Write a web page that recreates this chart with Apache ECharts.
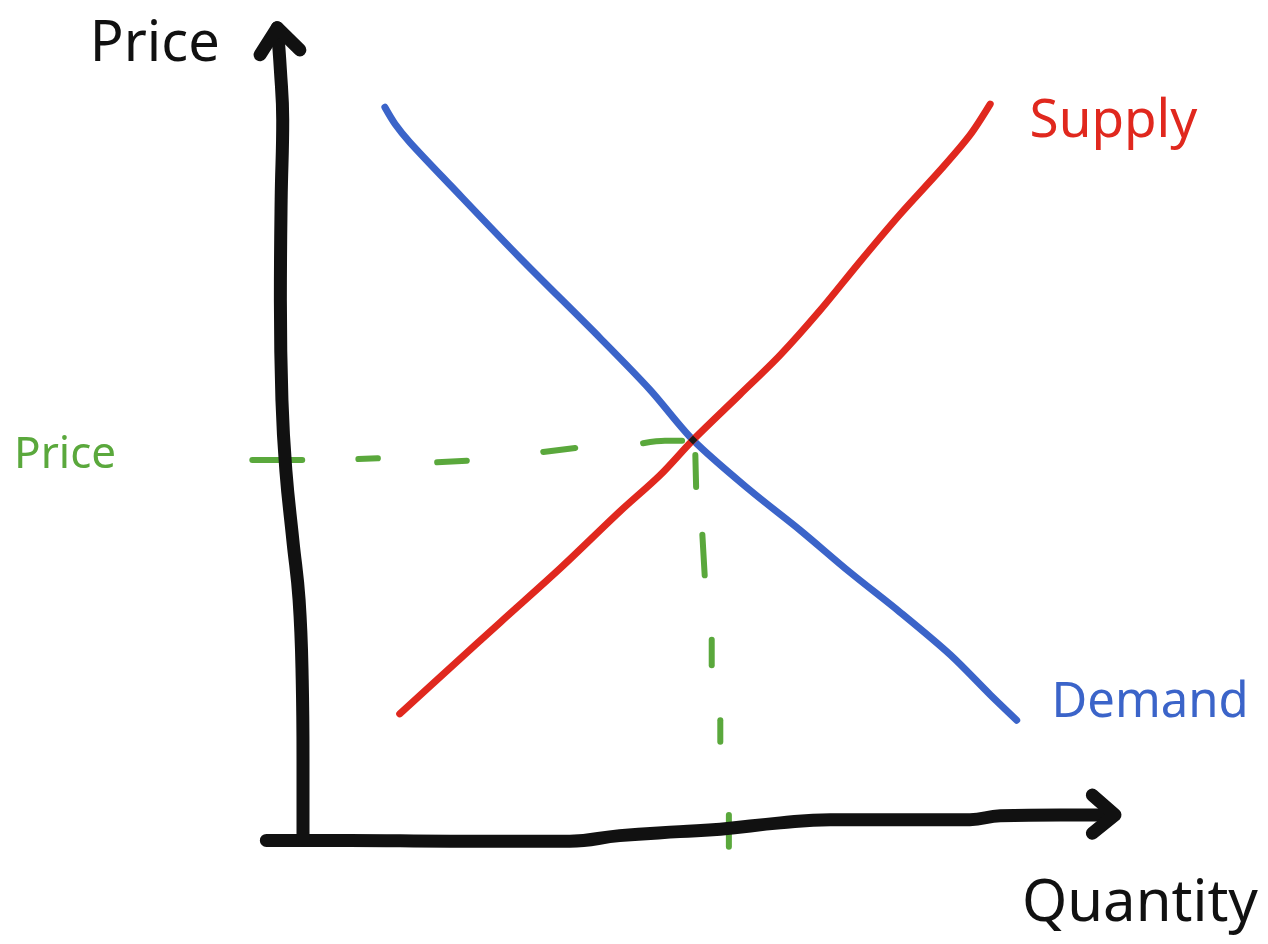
<!DOCTYPE html>
<html>
<head>
<meta charset="utf-8">
<title>Supply and Demand</title>
<script src="https://cdn.jsdelivr.net/npm/echarts@6/dist/echarts.min.js"></script>
<style>
  html, body { margin: 0; padding: 0; background: #ffffff; }
  #chart { width: 1268px; height: 944px; }
</style>
</head>
<body>
<div id="chart"></div>
<script>
// Quantity on x, price on y; the equilibrium sits at (5, 5).
// Each curve is a list of [quantity, price] points.
const demandPoints = [
  [1.05, 9.18], [1.18, 8.97], [1.37, 8.74], [1.89, 8.20], [2.78, 7.29],
  [3.81, 6.28], [4.45, 5.63], [5.00, 5.00], [5.73, 4.37], [6.37, 3.87],
  [7.01, 3.34], [7.65, 2.84], [8.30, 2.30], [8.81, 1.80], [9.15, 1.48]
];
const supplyPoints = [
  [1.24, 1.56], [1.89, 2.14], [2.53, 2.71], [3.30, 3.39], [4.06, 4.10],
  [4.58, 4.56], [5.00, 5.00], [5.60, 5.57], [6.12, 6.07], [6.63, 6.63],
  [7.14, 7.24], [7.65, 7.83], [8.17, 8.39], [8.55, 8.83], [8.81, 9.22]
];
const equilibrium = [5.0, 5.0];

// Hand-drawn axis strokes (slightly wobbly) and their arrow heads
const priceAxisStroke = [
  [-0.33, 10.18], [-0.29, 9.65], [-0.26, 9.02], [-0.28, 8.02], [-0.29, 6.76],
  [-0.27, 5.50], [-0.22, 4.62], [-0.13, 3.74], [-0.05, 2.99], [-0.01, 1.99],
  [0.0, 0.98], [0.0, 0.0]
];
const priceArrowHead = [[-0.55, 9.84], [-0.33, 10.18], [-0.04, 9.90]];
const quantityAxisStroke = [
  [-0.47, -0.03], [0.60, -0.03], [1.89, -0.04], [3.42, -0.04], [4.06, 0.03],
  [4.83, 0.08], [5.35, 0.11], [6.12, 0.19], [6.76, 0.23], [7.65, 0.23],
  [8.55, 0.23], [8.94, 0.28], [9.71, 0.29], [10.37, 0.29]
];
const quantityArrowHead = [[10.12, 0.54], [10.41, 0.29], [10.12, 0.06]];

// Dashed guides from the equilibrium to both axes, one entry per dash
const priceGuideDashes = [
  [[-0.65, 4.75], [-0.01, 4.75]],
  [[0.71, 4.76], [0.96, 4.77]],
  [[1.72, 4.72], [2.10, 4.74]],
  [[3.08, 4.85], [3.49, 4.90]],
  [[4.36, 4.96], [4.64, 4.99], [4.86, 4.99]]
];
const quantityGuideDashes = [
  [[5.03, 4.81], [5.04, 4.41]],
  [[5.12, 3.81], [5.15, 3.30]],
  [[5.24, 2.49], [5.24, 2.17]],
  [[5.35, 1.48], [5.35, 1.21]],
  [[5.46, 0.29], [5.46, -0.11]]
];

// Hand-lettered labels: text, anchor [quantity, price], colour, size
const labelTexts = ['Price', 'Quantity', 'Supply', 'Demand', 'Price'];
const labelAnchors = [[-1.90, 9.96], [10.73, -0.84], [10.39, 9.00], [10.86, 1.70], [-3.05, 4.81]];
const labelColors = ['#111111', '#111111', '#e0281e', '#3b64c9', '#5aa83c'];
const labelSizes = [56, 58, 53, 49, 44];

const BLACK = '#111111';
const RED = '#e0281e';
const BLUE = '#3b64c9';
const GREEN = '#5aa83c';
const FONT = '"Noto Sans", "Open Sans", "DejaVu Sans", sans-serif';

// Page layout: the origin's position on the page and pixels per unit,
// used to give the axes extents that fill the whole canvas.
const WIDTH = 1268, HEIGHT = 944;
const ORIGIN_X = 303, ORIGIN_Y = 838;
const PX_PER_Q = 78, PX_PER_P = 79.6;

function stroke(name, data, color, width, z, smooth) {
  return {
    name: name,
    type: 'line',
    data: data,
    clip: false,
    symbol: 'none',
    silent: true,
    z: z,
    smooth: smooth,
    lineStyle: { color: color, width: width, cap: 'round', join: 'round' }
  };
}

const series = [];
priceGuideDashes.concat(quantityGuideDashes).forEach(function (dash, i) {
  series.push(stroke('guide' + i, dash, GREEN, 6, 2, 0.3));
});
series.push(stroke('Quantity axis', quantityAxisStroke, BLACK, 13, 3, 0.45));
series.push(stroke('Price axis', priceAxisStroke, BLACK, 13, 3, 0.45));
series.push(stroke('Price arrow', priceArrowHead, BLACK, 13, 3, false));
series.push(stroke('Quantity arrow', quantityArrowHead, BLACK, 13, 3, false));
series.push(stroke('Demand', demandPoints, BLUE, 7, 4, 0.3));
series.push(stroke('Supply', supplyPoints, RED, 7, 5, 0.3));

// Where the two ink strokes overlap the colour darkens
series.push({
  name: 'Equilibrium',
  type: 'scatter',
  data: [equilibrium],
  clip: false,
  silent: true,
  z: 6,
  symbol: 'diamond',
  symbolSize: [9, 9],
  itemStyle: { color: '#1a1a1a', opacity: 1 }
});

// Labels
series.push({
  name: 'Labels',
  type: 'scatter',
  clip: false,
  silent: true,
  z: 7,
  symbolSize: 0,
  itemStyle: { opacity: 1 },
  data: labelTexts.map(function (t, i) {
    return {
      value: labelAnchors[i],
      label: {
        show: true,
        formatter: t,
        position: 'inside',
        align: 'center',
        verticalAlign: 'middle',
        color: labelColors[i],
        fontSize: labelSizes[i],
        fontFamily: FONT,
        fontWeight: 'normal',
        opacity: 1
      }
    };
  })
});

const hiddenAxis = {
  type: 'value',
  axisLine: { show: false }, axisTick: { show: false },
  axisLabel: { show: false }, splitLine: { show: false }
};

const chart = echarts.init(document.getElementById('chart'), null, { renderer: 'canvas' });
chart.setOption({
  backgroundColor: '#ffffff',
  animation: false,
  grid: { left: 0, top: 0, right: 0, bottom: 0 },
  xAxis: Object.assign({}, hiddenAxis, {
    min: -ORIGIN_X / PX_PER_Q,
    max: (WIDTH - ORIGIN_X) / PX_PER_Q
  }),
  yAxis: Object.assign({}, hiddenAxis, {
    min: -(HEIGHT - ORIGIN_Y) / PX_PER_P,
    max: ORIGIN_Y / PX_PER_P
  }),
  series: series
});
</script>
</body>
</html>
